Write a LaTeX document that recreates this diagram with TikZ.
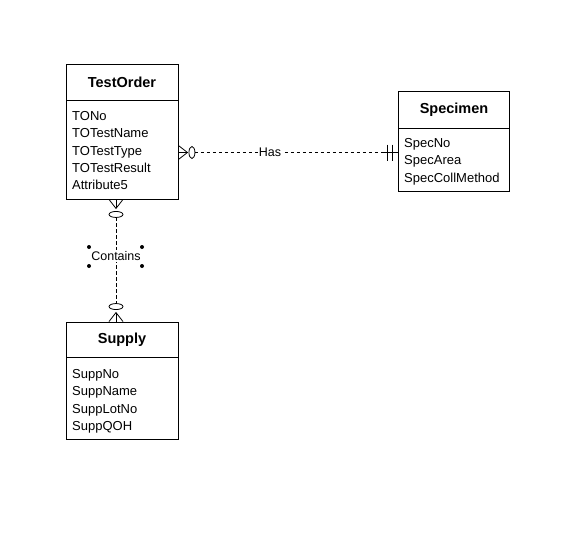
\documentclass[tikz,border=0pt]{standalone}
\usepackage{fontspec}
\setmainfont{Liberation Sans}
\usetikzlibrary{calc}
\begin{document}
\begin{tikzpicture}[x=1pt,y=-1pt,
  entbox/.style={draw=black,line width=0.9pt,minimum width=112pt,inner sep=0pt,fill=white},
  enthead/.style={entbox,font=\fontsize{14.5}{16}\selectfont\bfseries},
  attrs/.style={anchor=north west,inner sep=0pt,align=left,font=\fontsize{13}{17.4}\selectfont},
  rel/.style={draw=black,line width=0.8pt},
  reldash/.style={rel,dash pattern=on 3.5pt off 2.5pt},
  rellabel/.style={fill=white,inner sep=1pt,font=\fontsize{12.5}{14}\selectfont},
  handle/.style={circle,fill=black,inner sep=0pt,minimum size=4pt}]
\useasboundingbox[fill=white] (0,0) rectangle (571,546);

% TestOrder entity
\node[enthead,minimum height=36pt] (toh) at (122,82) {TestOrder};
\node[entbox,minimum height=99pt] (tob) at (122,149.5) {};
\node[attrs] (toa) at (72,111) {TONo\\TOTestName\\TOTestType\\TOTestResult\\Attribute5};

% Specimen entity
\node[enthead,minimum width=111pt,minimum height=37pt] (sph) at (454,109.5) {Specimen};
\node[entbox,minimum width=111pt,minimum height=63pt] (spb) at (454,159.5) {};
\node[attrs] (spa) at (404,138) {SpecNo\\SpecArea\\SpecCollMethod};

% Supply entity
\node[enthead,minimum height=36pt] (suh) at (122,340) {Supply};
\node[entbox,minimum height=82pt] (sub) at (122,398) {};
\node[attrs] (sua) at (72,369) {SuppNo\\SuppName\\SuppLotNo\\SuppQOH};

% Has: TestOrder (zero or many) -- Specimen (exactly one)
\coordinate (hasA) at (tob.east |- 0,152.5);
\coordinate (hasB) at (spb.west |- 0,152.5);
\draw[rel] (hasA) -- ++(9,0);
\draw[rel] ($(hasA)+(0,-7)$) -- ++(9,7) -- ++(-9,7);
\draw[rel] ($(hasA)+(13.5,0)$) ellipse (3pt and 6pt);
\draw[reldash] ($(hasA)+(16.5,0)$) -- ($(hasB)+(-14,0)$);
\draw[rel] ($(hasB)+(-14,0)$) -- (hasB);
\draw[rel] ($(hasB)+(-11,-8)$) -- ++(0,16);
\draw[rel] ($(hasB)+(-6,-8)$) -- ++(0,16);
\node[rellabel] (haslbl) at (270,152.5) {Has};

% Contains: TestOrder (zero or many) -- Supply (zero or many)
\coordinate (conA) at (116,0 |- tob.south);
\coordinate (conB) at (116,0 |- suh.north);
\draw[rel] (conA) -- ++(0,9);
\draw[rel] ($(conA)+(-7,0)$) -- ++(7,9) -- ++(7,-9);
\draw[rel] ($(conA)+(0,15)$) ellipse (7pt and 3pt);
\draw[reldash] ($(conA)+(0,18)$) -- ($(conB)+(0,-18)$);
\draw[rel] ($(conB)+(0,-15)$) ellipse (7pt and 3pt);
\draw[rel] (conB) -- ++(0,-9);
\draw[rel] ($(conB)+(-7,0)$) -- ++(7,-9) -- ++(7,9);
\node[rellabel] (conlbl) at (116,256) {Contains};
\node[handle] (h1) at (89,247) {};
\node[handle] (h2) at (142,247) {};
\node[handle] (h3) at (89,266) {};
\node[handle] (h4) at (142,266) {};
\end{tikzpicture}
\end{document}
